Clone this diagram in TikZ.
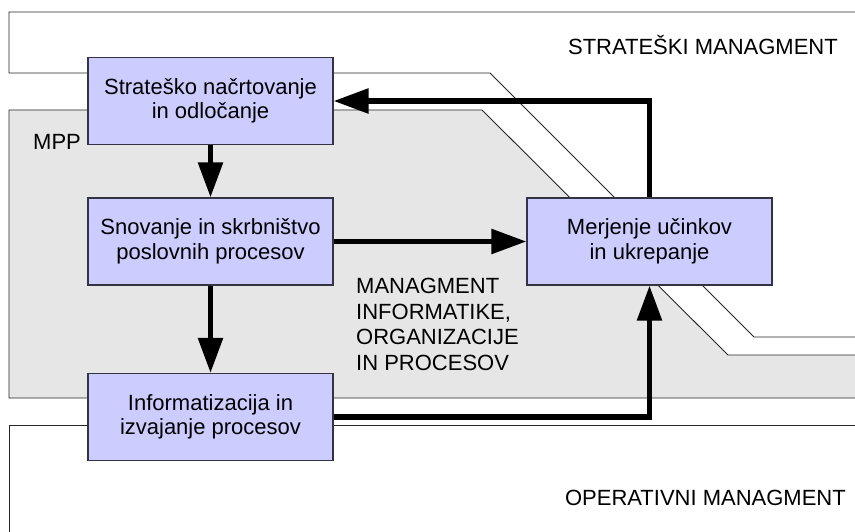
\documentclass[tikz,border=0pt]{standalone}
\usepackage{fontspec}
\setmainfont{Liberation Sans}
\usetikzlibrary{arrows.meta}
\definecolor{boxfill}{HTML}{CCCCFF}
\definecolor{boxline}{HTML}{333344}
\definecolor{mppfill}{HTML}{E6E6E6}
\begin{document}
\begin{tikzpicture}[x=1pt,y=-1pt,
  font=\fontsize{22}{24.5}\selectfont,
  region/.style={line width=0.9pt, draw=black!85},
  procbox/.style={draw=boxline, line width=1.1pt, fill=boxfill,
    minimum width=245pt, minimum height=87pt, align=center, inner sep=0pt},
  flow/.style={line width=5.5pt, line join=miter,
    -{Triangle[length=35pt,width=24pt]}},
  label/.style={inner sep=0pt}]
\clip (0,0) rectangle (855,532);
\fill[white] (0,0) rectangle (855,532);

% strategic management layer
\draw[region] (870,12) -- (9,12) -- (9,73) -- (490,73) -- (754,337) -- (870,337);
% MPP layer
\fill[mppfill] (870,355) -- (728,355) -- (482,110) -- (9,110) -- (9,398) -- (870,398) -- cycle;
\draw[region] (870,355) -- (728,355) -- (482,110) -- (9,110) -- (9,398) -- (870,398);
% operational management layer
\draw[region] (870,425) -- (9,425) -- (9,545);

% layer titles
\node[label, anchor=base east] (tstrat) at (838,55) {STRATEŠKI MANAGMENT};
\node[label, anchor=base east] (toper) at (846,505) {OPERATIVNI MANAGMENT};
\node[label, anchor=base west] (tmpp) at (33,150) {MPP};
\node[label, anchor=north west, align=left,
  font=\fontsize{22}{25.5}\selectfont] (tmip) at (356,278)
  {MANAGMENT\\INFORMATIKE,\\ORGANIZACIJE\\IN PROCESOV};

% process boxes
\node[procbox] (b1) at (210.5,101) {Strateško načrtovanje\\in odločanje};
\node[procbox] (b2) at (210.5,241.5) {Snovanje in skrbništvo\\poslovnih procesov};
\node[procbox] (b3) at (210.5,417) {Informatizacija in\\izvajanje procesov};
\node[procbox] (b4) at (649.5,241.5) {Merjenje učinkov\\in ukrepanje};

% flows
\draw[flow] (b1.south) -- (b2.north);
\draw[flow] (b2.south) -- (b3.north);
\draw[flow] (b2.east) -- (b4.west);
\draw[flow] (b3.east) -| (b4.south);
\draw[flow] (b4.north) |- (b1.east);
\end{tikzpicture}
\end{document}
